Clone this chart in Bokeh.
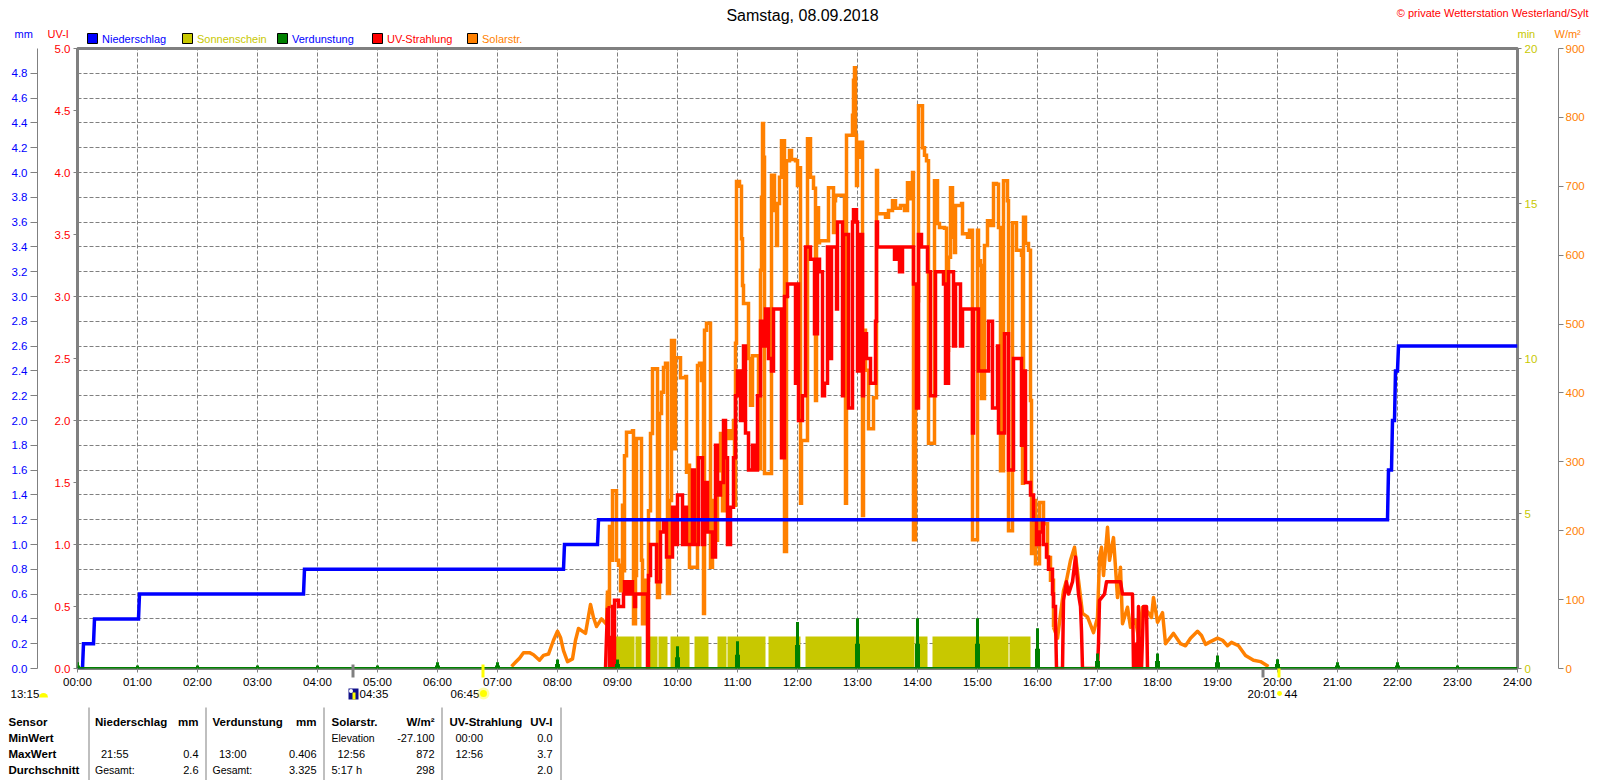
from bokeh.plotting import figure
from bokeh.layouts import column
from bokeh.models import Range1d, LinearAxis, FixedTicker, NumeralTickFormatter
from bokeh.core.properties import value
from bokeh.embed import file_html
from bokeh.resources import INLINE

# ---- data (x in minutes since midnight) -----------------------------------
hour_ticks = list(range(0, 1441, 60))
hour_labels = ["%02d:00" % h for h in range(25)]
uv_ticks = [0, .5, 1, 1.5, 2, 2.5, 3, 3.5, 4, 4.5, 5]
mm_ticks = [0, .2, .4, .6, .8, 1, 1.2, 1.4, 1.6, 1.8, 2, 2.2, 2.4, 2.6, 2.8, 3, 3.2, 3.4,
            3.6, 3.8, 4, 4.2, 4.4, 4.6, 4.8]
grid_ticks = mm_ticks + [5]
min_ticks = [0, 5, 10, 15, 20]
wm_ticks = [0, 100, 200, 300, 400, 500, 600, 700, 800, 900]

rain_t = [0, 5, 6, 16, 17, 61, 62, 226, 227, 486, 487, 520, 521, 1310, 1311, 1314, 1315, 1317, 1318, 1320, 1321, 1440]
rain_v = [0, 0, .2, .2, .4, .4, .6, .6, .8, .8, 1.0, 1.0, 1.2, 1.2, 1.6, 1.6, 2.0, 2.0, 2.4, 2.4, 2.6, 2.6]

sun_start = [531, 558, 572, 581, 593, 617, 640, 650, 691, 728, 838, 855, 932]
sun_end = [557, 564, 580, 590, 612, 631, 649, 688, 723, 837, 850, 931, 953]
sun_min = [1.03] * 13

evap_t = hour_ticks[:24]
evap_peak = [.05, .024, .024, .024, .024, .024, .05, .05, .073, .073, .18, .22, .375, .406,
             .406, .406, .325, .12, .12, .105, .075, .05, .05, .024]
evap_base = [.024, .012, .012, .012, .012, .012, .024, .024, .036, .036, .09, .11, .19, .2,
             .2, .2, .16, .06, .06, .05, .036, .024, .024, .012]
evap_line_t = [0, 1440]
evap_line_v = [0, 0]

solar_t = [434, 438, 442, 446, 452, 456, 462, 466, 471, 476, 480, 483, 486, 490, 495, 498, 501, 508, 513, 516,
           519, 524, 529, 530, 531, 532, 534, 535, 538, 539, 541, 543, 545, 546, 547, 549, 555, 556, 558, 559,
           563, 564, 565, 568, 571, 573, 575, 579, 580, 582, 584, 586, 588, 590, 592, 594, 596, 597, 598, 601,
           603, 608, 609, 610, 612, 618, 620, 622, 624, 626, 627, 629, 631, 633, 635, 637, 640, 643, 645, 648,
           651, 653, 656, 657, 658, 659, 662, 664, 665, 666, 670, 671, 673, 675, 678, 681, 683, 684, 685, 686,
           687, 692, 694, 696, 697, 699, 700, 702, 704, 706, 707, 709, 712, 714, 718, 720, 722, 723, 724, 729,
           730, 731, 733, 736, 738, 739, 741, 742, 750, 751, 752, 756, 757, 758, 765, 767, 768, 769, 774, 775,
           776, 777, 778, 779, 780, 782, 784, 785, 786, 788, 791, 793, 796, 799, 800, 803, 808, 811, 815, 818,
           823, 827, 830, 832, 835, 836, 838, 841, 844, 845, 847, 849, 851, 856, 857, 860, 862, 867, 869, 871,
           873, 875, 877, 878, 884, 885, 890, 892, 895, 900, 901, 903, 904, 907, 910, 913, 916, 919, 921, 923,
           926, 930, 931, 935, 938, 939, 944, 945, 946, 948, 951, 953, 954, 956, 958, 962, 966, 970, 973, 976,
           980, 986, 989, 993, 997, 1001, 1005, 1010, 1016, 1020, 1022, 1024, 1026, 1030, 1032, 1036, 1040, 1043, 1045, 1050,
           1053, 1058, 1061, 1065, 1071, 1074, 1076, 1080, 1085, 1088, 1096, 1103, 1108, 1113, 1120, 1124, 1128, 1133, 1140, 1145,
           1150, 1154, 1161, 1168, 1176, 1183, 1191]
solar_v = [3, 9, 15, 23, 23, 20, 12, 19, 21, 41, 54, 45, 26, 10, 14, 41, 58, 51, 93, 74,
           61, 72, 64, 113, 90, 206, 157, 258, 258, 157, 150, 113, 237, 142, 309, 343, 345, 65, 135, 334,
           334, 157, 65, 128, 229, 341, 435, 435, 103, 370, 401, 437, 443, 109, 244, 476, 476, 319, 451, 451,
           422, 424, 285, 295, 147, 147, 440, 443, 418, 80, 491, 501, 501, 147, 244, 186, 287, 341, 229, 334,
           345, 334, 360, 237, 472, 707, 700, 624, 556, 530, 530, 450, 382, 454, 454, 290, 578, 684, 791, 742,
           283, 283, 716, 716, 665, 614, 675, 713, 766, 766, 170, 737, 752, 739, 737, 701, 727, 240, 331, 331,
           769, 769, 713, 697, 389, 669, 618, 621, 621, 698, 698, 633, 679, 687, 687, 631, 240, 774, 774, 803,
           854, 872, 774, 701, 742, 764, 764, 222, 491, 433, 348, 348, 393, 723, 660, 660, 655, 665, 679, 668,
           672, 665, 705, 682, 720, 187, 534, 817, 817, 756, 745, 737, 327, 327, 708, 646, 640, 639, 462, 597,
           698, 626, 604, 672, 675, 631, 626, 636, 187, 636, 592, 585, 392, 614, 650, 643, 704, 703, 640, 287,
           708, 679, 200, 647, 647, 607, 600, 269, 655, 617, 607, 389, 167, 244, 152, 241, 210, 161, 128, 60,
           44, 113, 128, 157, 176, 128, 80, 75, 52, 74, 160, 176, 135, 205, 157, 190, 103, 147, 65, 89,
           60, 70, 45, 89, 81, 74, 103, 67, 81, 36, 51, 36, 33, 44, 54, 48, 35, 39, 44, 41,
           33, 38, 33, 19, 12, 10, 3]

uv_t = [528, 529, 530, 531, 532, 533, 534, 535, 536, 537, 541, 545, 546, 547, 549, 551, 552, 553, 555,
        557, 558, 568, 569, 570, 571, 573, 577, 579, 582, 583, 586, 589, 593, 595, 598, 600, 604, 605, 607,
        609, 615, 617, 621, 625, 627, 630, 635, 638, 640, 643, 646, 648, 650, 653, 656, 658, 660, 663, 666,
        668, 671, 675, 678, 680, 683, 686, 688, 691, 694, 696, 703, 704, 706, 707, 710, 718, 720, 721, 725,
        728, 731, 733, 737, 740, 742, 745, 747, 750, 751, 754, 758, 759, 760, 763, 765, 766, 771, 775, 776,
        779, 780, 782, 785, 786, 789, 793, 798, 799, 800, 815, 817, 819, 822, 825, 835, 836, 839, 841, 844,
        848, 850, 853, 858, 863, 866, 868, 871, 876, 878, 883, 885, 893, 895, 896, 901, 906, 911, 915, 920,
        921, 927, 931, 936, 944, 946, 948, 953, 956, 959, 962, 965, 966, 969, 971, 975, 976, 978, 979, 985,
        986, 989, 991, 995, 998, 1001, 1003, 1004, 1005, 1020, 1021, 1022, 1027, 1029, 1043, 1045, 1055, 1056, 1057, 1058,
        1059, 1060, 1061, 1062, 1063, 1064, 1066, 1069, 1070]
uv_v = [0, .25, .49, .25, 0, .25, 0, .5, 0, .55, .5, .5, .6, .7, .6, .7, .6, .7, .6,
        .5, .6, .6, .6, 0, .75, 1.0, 1.0, .7, .7, 1.1, 1.2, .9, .9, 1.3, 1.0, 1.4, 1.4, 1.0, 1.3,
        1.0, 1.6, 1.0, 1.7, 1.0, 1.5, 1.1, .9, 1.8, 1.4, 1.5, 2.0, 1.7, 1.0, 1.3, 1.7, 2.2, 2.4, 2.0, 2.6,
        1.9, 1.6, 1.8, 1.6, 2.2, 2.8, 2.6, 2.9, 2.5, 2.4, 2.9, 2.9, 1.7, 1.7, 3.0, 3.1, 2.3, 3.1, 2.0, 2.2,
        3.4, 3.4, 3.3, 2.7, 3.3, 3.2, 2.2, 2.3, 3.4, 2.5, 3.4, 3.4, 2.9, 3.6, 3.6, 2.2, 3.5, 2.1, 3.6, 3.7,
        3.6, 2.4, 3.5, 2.2, 2.7, 2.5, 2.3, 2.8, 3.6, 3.4, 3.4, 3.3, 3.4, 3.2, 3.4, 3.4, 3.1, 2.1, 3.5, 3.4,
        3.4, 3.2, 2.2, 3.2, 3.2, 3.1, 2.3, 3.2, 2.6, 3.1, 2.6, 2.9, 2.9, 1.9, 2.9, 2.4, 2.4, 2.8, 2.1, 2.6,
        1.9, 2.7, 1.6, 2.5, 1.8, 2.4, 1.5, 1.4, 1.2, 1.0, 1.1, 1.2, 1.0, .9, .8, .6, .5, .4, 0, 0,
        .55, .7, .6, .7, .9, .6, .5, .3, 0, 0, .2, .55, .6, .7, .7, .6, .6, 0, .1, 0,
        .2, 0, .5, 0, .1, 0, .5, .5, 0]

BLUE, OLIVE, GREEN, RED, ORANGE, GRAY = "#0000ff", "#c8c800", "#008000", "#ff0000", "#ff8000", "#808080"
FONT = "Liberation Sans"

p = figure(width=1600, height=780, output_backend="svg", toolbar_location=None,
           x_range=Range1d(0, 1440), y_range=Range1d(0, 5),
           frame_width=1440, frame_height=620, min_border_left=77, min_border_right=83,
           min_border_top=48, min_border_bottom=112, background_fill_color="white",
           border_fill_color="white", outline_line_color=GRAY, outline_line_width=3)
p.frame_align = False
p.extra_y_ranges = {"minutes": Range1d(0, 20), "solar": Range1d(0, 900)}

p.xgrid.ticker = FixedTicker(ticks=hour_ticks)
p.ygrid.ticker = FixedTicker(ticks=grid_ticks)
for g in (p.xgrid, p.ygrid):
    g.grid_line_color = GRAY
    g.grid_line_dash = "4 2"
    g.grid_line_width = 1

def style(ax, color, ticks, size="11.5px"):
    ax.ticker = FixedTicker(ticks=ticks)
    ax.major_label_text_color = color
    ax.major_label_text_font = FONT
    ax.major_label_text_font_size = size
    ax.major_tick_line_color = GRAY
    ax.minor_tick_line_color = None
    ax.major_tick_in = 0

xa = p.xaxis[0]
style(xa, "#000000", hour_ticks)
xa.major_label_overrides = dict(zip(hour_ticks, hour_labels))
xa.axis_line_color = None
xa.major_tick_out = 4
xa.major_label_standoff = 3

ua = p.yaxis[0]
style(ua, RED, uv_ticks)
ua.formatter = NumeralTickFormatter(format="0.0")
ua.axis_line_color = None
ua.major_tick_out = 4
ua.major_label_standoff = 3
ua.axis_label = " "
ua.axis_label_text_font_size = "4px"
ua.axis_label_standoff = 6

ma = LinearAxis(axis_line_color=GRAY, axis_line_width=1)
style(ma, BLUE, mm_ticks)
ma.formatter = NumeralTickFormatter(format="0.0")
ma.major_tick_out = 7
ma.major_label_standoff = 3
p.add_layout(ma, "left")

na = LinearAxis(y_range_name="minutes", axis_line_color=None)
style(na, OLIVE, min_ticks)
na.major_tick_out = 4
na.major_label_standoff = 3
na.axis_label = " "
na.axis_label_text_font_size = "4px"
na.axis_label_standoff = 10
p.add_layout(na, "right")

wa = LinearAxis(y_range_name="solar", axis_line_color=GRAY, axis_line_width=1)
style(wa, ORANGE, wm_ticks)
wa.major_tick_out = 5
wa.major_label_standoff = 2
p.add_layout(wa, "right")

def parts(ts, vs, lo, hi):
    """Split a series at two minutes: smooth part, spiky part, smooth part."""
    i = next(k for k, t in enumerate(ts) if t >= lo)
    j = next(k for k, t in enumerate(ts) if t >= hi)
    return (ts[:i + 1], vs[:i + 1]), (ts[i:j + 1], vs[i:j + 1]), (ts[j:], vs[j:])

p.quad(left=sun_start, right=sun_end, bottom=0, top=sun_min, y_range_name="minutes",
       fill_color=OLIVE, line_color=None)

s1, s2, s3 = parts(solar_t, solar_v, 530, 976)
p.line(*s1, y_range_name="solar", line_color=ORANGE, line_width=3.5, line_join="round")
p.step(*s2, mode="after", y_range_name="solar", line_color=ORANGE, line_width=3.5, line_join="miter")
p.line(*s3, y_range_name="solar", line_color=ORANGE, line_width=3.5, line_join="round")

u1, u2, u3 = parts(uv_t, uv_v, 530, 978)
p.line(*u1, line_color=RED, line_width=3.5, line_join="round")
p.step(*u2, mode="after", line_color=RED, line_width=3.5, line_join="miter")
p.line(*u3, line_color=RED, line_width=3.5, line_join="round")

p.line(rain_t, rain_v, line_color=BLUE, line_width=3.5, line_join="miter")
p.vbar(x=evap_t, width=3, top=evap_peak, bottom=0, fill_color=GREEN, line_color=None)
p.vbar(x=evap_t, width=5, top=evap_base, bottom=0, fill_color=GREEN, line_color=None)
p.line(evap_line_t, evap_line_v, line_color=GREEN, line_width=3)

# ---- transparent sheet over the chart for the header, sun row and table -----
o = figure(width=1600, height=780, output_backend="svg", toolbar_location=None,
           x_range=Range1d(0, 1600), y_range=Range1d(780, 0), x_axis_type=None, y_axis_type=None,
           min_border=0, background_fill_color=None, border_fill_color=None, outline_line_color=None)
o.frame_align = False
o.grid.visible = False
o.margin = (-780, 0, 0, 0)

def label(x, y, text, color="#000000", size="11px", align="left", style="normal"):
    o.text(x=[x], y=[y], text=[text], text_color=color, text_font=value(FONT),
           text_font_size=size, text_align=align, text_baseline="middle", text_font_style=style)

def box(x0, y0, x1, y1, fill, line=None):
    o.quad(left=[x0], right=[x1], top=[y0], bottom=[y1], fill_color=fill, line_color=line, line_width=1)

label(802, 15, "Samstag, 08.09.2018", size="16px", align="center")
label(1588, 12, "\u00a9 private Wetterstation Westerland/Sylt", RED, "11px", align="right")
label(14, 33, "mm", BLUE)
label(47, 33, "UV-I", RED)
label(1517, 33, "min", OLIVE)
label(1554, 33, "W/m\u00b2", ORANGE)
legend_names = ["Niederschlag", "Sonnenschein", "Verdunstung", "UV-Strahlung", "Solarstr."]
legend_fill = [BLUE, OLIVE, GREEN, RED, ORANGE]
legend_text = [BLUE, OLIVE, BLUE, RED, ORANGE]
for i in range(5):
    box(87 + 95 * i, 33, 97 + 95 * i, 43, legend_fill[i], "#000000")
    label(101.5 + 95 * i, 38, legend_names[i], legend_text[i])

box(351, 664, 354, 677, GRAY)
box(481, 664, 484, 677, "#ffff00")
box(1261, 668, 1264, 677, GRAY)
box(1277, 668, 1280, 677, "#ffff00")
label(10, 693, "13:15", size="11.5px")
o.wedge(x=[43], y=[697], radius=4.5, start_angle=0, end_angle=3.14159, direction="anticlock",
        fill_color="#ffff00", line_color=None)
box(348, 688, 358, 699, "#10108a")
box(352, 692, 355, 699, "#ffff00")
o.scatter(x=[350.5], y=[690.5], size=4, fill_color="#ffffff", line_color=None)
label(359, 693, "04:35", size="11.5px")
label(450, 693, "06:45", size="11.5px")
o.scatter(x=[483], y=[693], size=12, fill_color="#ffff00", fill_alpha=.35, line_color=None)
o.scatter(x=[483], y=[693], size=7, fill_color="#ffff00", line_color=None)
label(1247, 693, "20:01", size="11.5px")
o.scatter(x=[1279], y=[693], size=5, fill_color="#ffff00", line_color=None)
label(1284, 693, "44", size="11.5px")

for x in (88, 205, 323, 441, 560):
    box(x, 707, x + 1, 780, GRAY)
rows = [721.5, 737.5, 753.5, 769.5]
for y, t in zip(rows, ["Sensor", "MinWert", "MaxWert", "Durchschnitt"]):
    label(8, y, t, style="bold", size="11.5px")
for x, x2, a, b in ((94.5, 198, "Niederschlag", "mm"), (212, 316, "Verdunstung", "mm"),
                    (331, 434, "Solarstr.", "W/m\u00b2"), (449, 552, "UV-Strahlung", "UV-I")):
    label(x, rows[0], a, style="bold", size="11.5px")
    label(x2, rows[0], b, align="right", style="bold", size="11.5px")
label(331, rows[1], "Elevation", size="10.5px"); label(434, rows[1], "-27.100", align="right")
label(455, rows[1], "00:00"); label(552, rows[1], "0.0", align="right")
label(100.5, rows[2], "21:55"); label(198, rows[2], "0.4", align="right")
label(218.5, rows[2], "13:00"); label(316, rows[2], "0.406", align="right")
label(337, rows[2], "12:56"); label(434, rows[2], "872", align="right")
label(455, rows[2], "12:56"); label(552, rows[2], "3.7", align="right")
label(94.5, rows[3], "Gesamt:", size="10.5px"); label(198, rows[3], "2.6", align="right")
label(212, rows[3], "Gesamt:", size="10.5px"); label(316, rows[3], "3.325", align="right")
label(331, rows[3], "5:17 h"); label(434, rows[3], "298", align="right")
label(552, rows[3], "2.0", align="right")

assert len(solar_t) == len(solar_v), (len(solar_t), len(solar_v))
assert len(uv_t) == len(uv_v), (len(uv_t), len(uv_v))
open("out.html", "w").write(file_html(column(p, o, spacing=0), INLINE))
